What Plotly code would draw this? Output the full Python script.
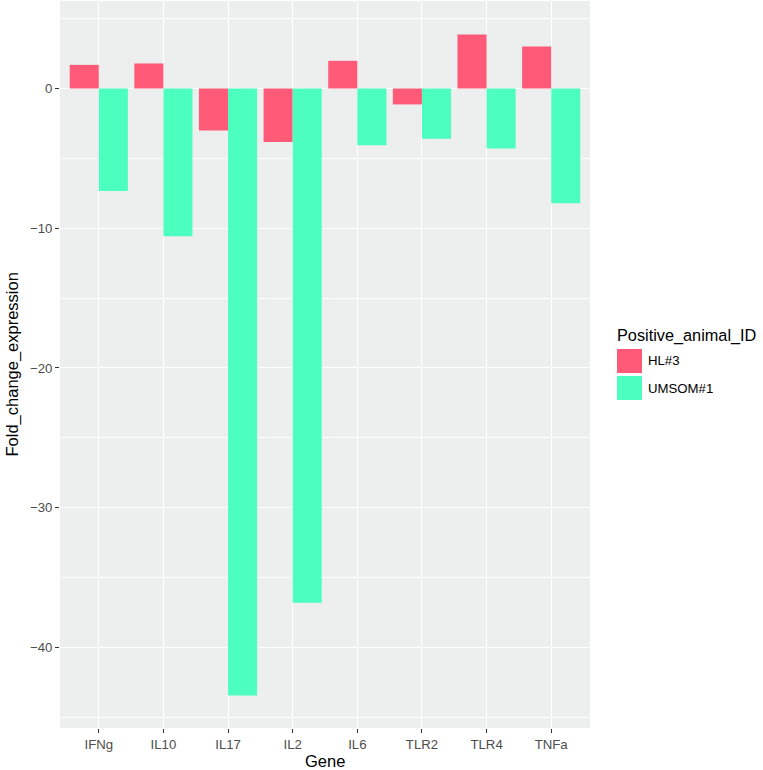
import plotly.graph_objects as go

genes = ["IFNg", "IL10", "IL17", "IL2", "IL6", "TLR2", "TLR4", "TNFa"]
hl3 = [1.69, 1.79, -3.0, -3.83, 1.98, -1.14, 3.86, 3.0]
umsom1 = [-7.33, -10.57, -43.43, -36.8, -4.07, -3.59, -4.29, -8.21]
series_names = ["HL#3", "UMSOM#1"]
colors = ["#FF5A78", "#4DFFBE"]
legend_title = "Positive_animal_ID"

fig = go.Figure()
for name, vals, col in zip(series_names, [hl3, umsom1], colors):
    fig.add_trace(go.Bar(x=genes, y=vals, name=name, showlegend=False,
                         marker=dict(color=col, line=dict(width=0))))

font = "Liberation Sans, Arial, sans-serif"
W, H = 763, 770
L, R, T, B = 60, 173, 1, 42

def px(x):
    return (x - L) / (W - L - R)

def py(y):
    return 1 - (y - T) / (H - T - B)

# manual ggplot-style legend
shapes = []
annotations = [dict(text=legend_title, x=px(615), y=py(335), xref="paper", yref="paper",
                    xanchor="left", yanchor="middle", showarrow=False,
                    font=dict(size=16.3, color="black", family=font))]
for i, (name, col) in enumerate(zip(series_names, colors)):
    y0 = 349 + i * 27
    shapes.append(dict(type="rect", xref="paper", yref="paper",
                       x0=px(617), x1=px(642), y0=py(y0), y1=py(y0 + 24),
                       fillcolor=col, line=dict(width=0)))
    annotations.append(dict(text=name, x=px(646), y=py(y0 + 12), xref="paper", yref="paper",
                            xanchor="left", yanchor="middle", showarrow=False,
                            font=dict(size=13.2, color="black", family=font)))
annotations.append(dict(text="Gene", x=0.5, y=py(761), xref="paper", yref="paper",
                        xanchor="center", yanchor="middle", showarrow=False,
                        font=dict(size=16.5, color="black", family=font)))
annotations.append(dict(text="Fold_change_expression", x=px(12), y=0.5, xref="paper", yref="paper",
                        xanchor="center", yanchor="middle", showarrow=False, textangle=-90,
                        font=dict(size=16.5, color="black", family=font)))

fig.update_layout(
    width=W, height=H,
    barmode="group", bargap=0.1, bargroupgap=0,
    paper_bgcolor="white", plot_bgcolor="#ECEFEE",
    margin=dict(l=L, r=R, t=T, b=B),
    font=dict(family=font, color="black"),
    showlegend=False,
    shapes=shapes, annotations=annotations,
    xaxis=dict(
        automargin=False,
        range=[-0.6, 7.6], showgrid=True, gridcolor="white", gridwidth=1.1,
        ticks="outside", ticklen=4, tickcolor="#333333", tickwidth=1,
        tickfont=dict(size=13.2, color="#4D4D4D"), zeroline=False, showline=False,
    ),
    yaxis=dict(
        automargin=False,
        range=[-45.76, 6.26], tick0=0, dtick=10, showgrid=True, gridcolor="white", gridwidth=1.1,
        ticks="outside", ticklen=4, tickcolor="#333333", tickwidth=1,
        tickfont=dict(size=13.2, color="#4D4D4D"), zeroline=False, showline=False,
        minor=dict(tick0=5, dtick=10, showgrid=True, gridcolor="white", gridwidth=0.55, ticks=""),
    ),
)

fig.write_html("out.html", config={"displayModeBar": False},
               post_script="document.body.style.margin='0';")
